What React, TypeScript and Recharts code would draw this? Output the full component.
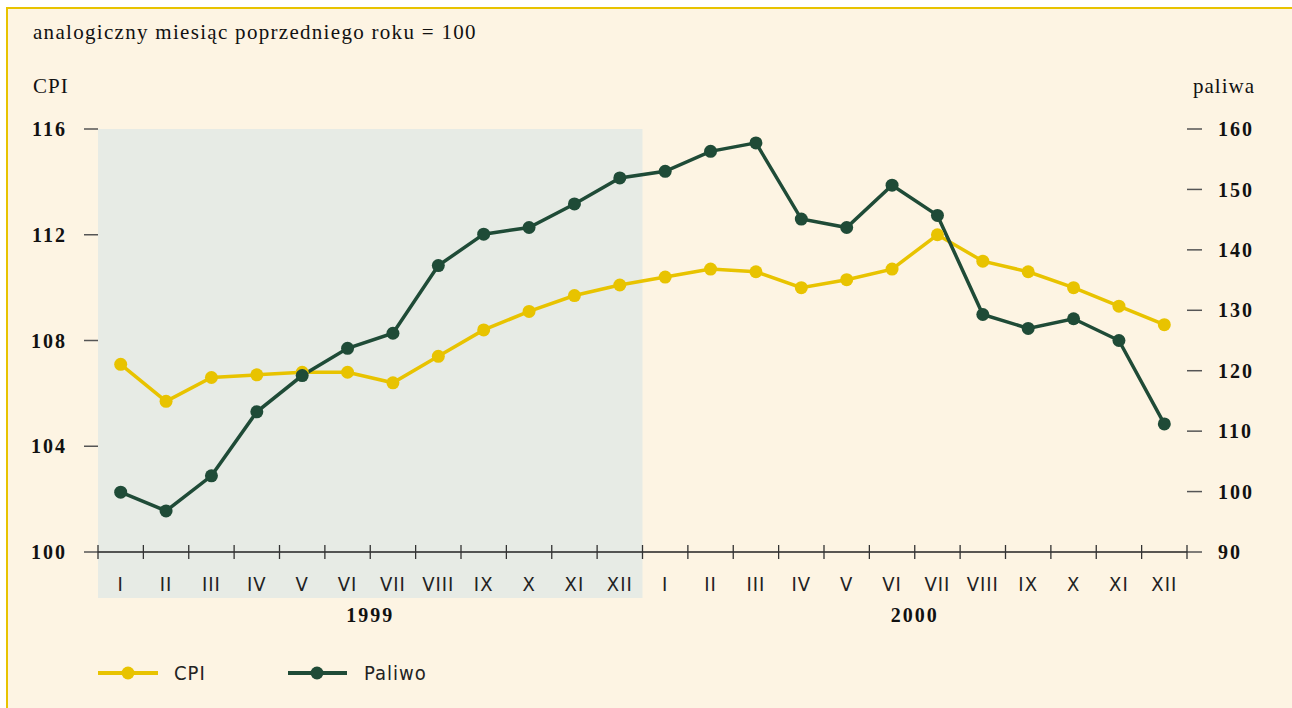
import React from 'react';
import { LineChart, Line, XAxis, YAxis, ReferenceArea } from 'recharts';

const months = ['I', 'II', 'III', 'IV', 'V', 'VI', 'VII', 'VIII', 'IX', 'X', 'XI', 'XII', 'I', 'II', 'III', 'IV', 'V', 'VI', 'VII', 'VIII', 'IX', 'X', 'XI', 'XII'];
const years = ['1999', '2000'];
const cpi = [107.1, 105.7, 106.6, 106.7, 106.8, 106.8, 106.4, 107.4, 108.4, 109.1, 109.7, 110.1, 110.4, 110.7, 110.6, 110.0, 110.3, 110.7, 112.0, 111.0, 110.6, 110.0, 109.3, 108.6];
const paliwo = [99.9, 96.8, 102.6, 113.2, 119.2, 123.7, 126.2, 137.4, 142.6, 143.7, 147.6, 151.9, 153.0, 156.3, 157.7, 145.1, 143.7, 150.7, 145.7, 129.3, 127.0, 128.6, 125.0, 111.2];
const leftTicks = [100, 104, 108, 112, 116];
const rightTicks = [90, 100, 110, 120, 130, 140, 150, 160];

const data = months.map((m, i) => ({ pos: i + 0.5, month: m, cpi: cpi[i], paliwo: paliwo[i] }));
const boundaryTicks = Array.from({ length: months.length + 1 }, (_, i) => i);
const monthTicks = months.map((_, i) => i + 0.5);
const yearTicks = years.map((_, i) => i * 12 + 6);

const YELLOW = '#e8c300';
const GREEN = '#1f4b37';
const CREAM = '#fdf4e3';
const SHADE = '#e7ebe5';
const SERIF = "'Liberation Serif', 'Times New Roman', serif";
const NARROW = "'Liberation Sans Narrow', 'DejaVu Sans Condensed', 'Liberation Sans', sans-serif";

const CrossTick = (props: any) => {
  const { x, y } = props;
  return <line x1={x} x2={x} y1={y - 7} y2={y + 7} stroke="#333" strokeWidth={1.3} />;
};

export default function App() {
  return (
    <div style={{ position: 'absolute', left: 0, top: 0, width: 1292, height: 708, background: '#ffffff', overflow: 'hidden' }}>
      <div style={{ position: 'absolute', left: 6, top: 7, width: 1300, height: 720, background: CREAM, borderLeft: `2px solid ${YELLOW}`, borderTop: `2px solid ${YELLOW}` }} />
      <div style={{ position: 'absolute', left: 0, top: 0 }}>
        <LineChart width={1292} height={708} data={data} margin={{ top: 129, left: 38, right: 45, bottom: 76 }}>
          <ReferenceArea xAxisId="main" yAxisId="left" x1={0} x2={12} y1={98.26} y2={116} fill={SHADE} fillOpacity={1} stroke="none" ifOverflow="visible" />
          <XAxis xAxisId="main" dataKey="pos" type="number" domain={[0, 24]} ticks={boundaryTicks} height={2} tickSize={0} tickMargin={0} tickLine={false} tick={<CrossTick />} interval={0} axisLine={{ stroke: '#222', strokeWidth: 1.5 }} allowDataOverflow />
          <XAxis xAxisId="months" dataKey="pos" type="number" domain={[0, 24]} ticks={monthTicks} height={38} tickSize={0} tickMargin={23} tickLine={false} axisLine={false} interval={0}
            tickFormatter={(v: number) => months[Math.floor(v)]}
            tick={{ fill: '#222', fontSize: 20, fontFamily: NARROW, letterSpacing: 1 }} allowDataOverflow />
          <XAxis xAxisId="years" dataKey="pos" type="number" domain={[0, 24]} ticks={yearTicks} height={40} tickSize={0} tickMargin={16} tickLine={false} axisLine={false} interval={0}
            tickFormatter={(v: number) => years[Math.floor(v / 12)]}
            tick={{ fill: '#111', fontSize: 20, fontFamily: SERIF, fontWeight: 'bold', letterSpacing: 2 }} allowDataOverflow />
          <YAxis yAxisId="left" orientation="left" width={60} domain={[100, 116]} ticks={leftTicks} axisLine={false} tickSize={14} tickMargin={17} interval={0}
            tickLine={{ stroke: '#555', strokeWidth: 1.5 }}
            tick={{ fill: '#111', fontSize: 20, fontFamily: SERIF, fontWeight: 'bold', letterSpacing: 2 }} allowDataOverflow />
          <YAxis yAxisId="right" orientation="right" width={60} domain={[90, 160]} ticks={rightTicks} axisLine={false} tickSize={15} tickMargin={16} interval={0}
            tickLine={{ stroke: '#555', strokeWidth: 1.5 }}
            tick={{ fill: '#111', fontSize: 20, fontFamily: SERIF, fontWeight: 'bold', letterSpacing: 2 }} allowDataOverflow />
          <Line xAxisId="main" yAxisId="left" dataKey="cpi" stroke={YELLOW} strokeWidth={3.5} dot={{ r: 6.5, fill: YELLOW, stroke: 'none' }} activeDot={false} isAnimationActive={false} />
          <Line xAxisId="main" yAxisId="right" dataKey="paliwo" stroke={GREEN} strokeWidth={3.5} dot={{ r: 6.5, fill: GREEN, stroke: 'none' }} activeDot={false} isAnimationActive={false} />
        </LineChart>
      </div>
      <svg width={1292} height={708} style={{ position: 'absolute', left: 0, top: 0, pointerEvents: 'none' }}>
        <text x={33} y={39} fontFamily={SERIF} fontSize={21} fill="#111" letterSpacing={1.3}>analogiczny miesiąc poprzedniego roku = 100</text>
        <text x={33} y={93} fontFamily={SERIF} fontSize={21} fill="#111" letterSpacing={1}>CPI</text>
        <text x={1255} y={93} fontFamily={SERIF} fontSize={21} fill="#111" letterSpacing={1} textAnchor="end">paliwa</text>
        <line x1={98} x2={158} y1={673} y2={673} stroke={YELLOW} strokeWidth={4} />
        <circle cx={128} cy={673} r={6.5} fill={YELLOW} />
        <text x={174} y={680} fontFamily={NARROW} fontSize={20} fill="#222" letterSpacing={1}>CPI</text>
        <line x1={288} x2={347} y1={673} y2={673} stroke={GREEN} strokeWidth={4} />
        <circle cx={317} cy={673} r={6.5} fill={GREEN} />
        <text x={364} y={680} fontFamily={NARROW} fontSize={20} fill="#222" letterSpacing={1}>Paliwo</text>
      </svg>
    </div>
  );
}
